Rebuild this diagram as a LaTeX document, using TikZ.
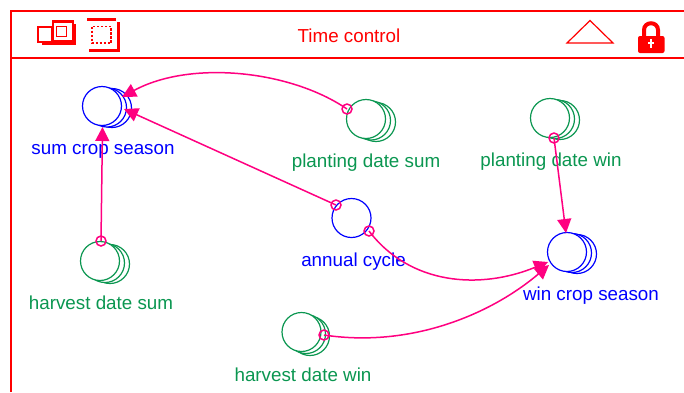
\documentclass[tikz,border=0pt]{standalone}
\usepackage{fontspec}
\setmainfont{Liberation Sans}
\usetikzlibrary{arrows.meta}
\definecolor{stockblue}{RGB}{0,0,255}
\definecolor{auxgreen}{RGB}{10,150,80}
\definecolor{linkpink}{RGB}{255,0,128}
\definecolor{framered}{RGB}{255,0,0}
\tikzset{
  stockc/.style={circle,draw=#1,fill=white,line width=1.2pt,minimum size=39pt,inner sep=0pt,outer sep=0pt},
  lab/.style={font=\fontsize{18.8}{21}\selectfont,text=#1,inner sep=0pt,anchor=base},
  port/.style={circle,draw=linkpink,line width=1.5pt,minimum size=10pt,inner sep=0pt,outer sep=0pt},
  link/.style={draw=linkpink,line width=1.5pt,-{Triangle[length=14pt,width=14pt]}},
  frameline/.style={draw=framered,line width=2pt},
  iconline/.style={draw=framered,line width=1.2pt},
  iconthick/.style={draw=framered,line width=2.8pt}
}
\begin{document}
\begin{tikzpicture}[x=1pt,y=-1pt]
\useasboundingbox (0,0) rectangle (684,392);
% frame
\coordinate (ftl) at (10.5,10.5);
\coordinate (ftr) at (684,10.5);
\coordinate (fbl) at (10.5,392);
\coordinate (fdl) at (10.5,58);
\coordinate (fdr) at (684,58);
\draw[frameline] (fbl) -- (ftl) -- (ftr);
\draw[frameline] (fdl) -- (fdr);
\node[lab=framered] (title) at (349,42) {Time control};
% icon 1
\draw[iconthick] (38,27) rectangle (52,42);
\draw[iconthick] (53,21.5) rectangle (73,41);
\draw[iconline] (56.5,26.5) rectangle (66.5,36.5);
\draw[iconthick] (42,43.5) -- (74.5,43.5) -- (74.5,24);
% icon 2
\draw[iconthick] (87,19.5) -- (116,19.5);
\draw[draw=framered,line width=3.5pt] (118.5,22) -- (118.5,50.5) -- (89,50.5);
\draw[iconline,dash pattern=on 2.5pt off 1.5pt] (92,26.5) rectangle (111,43);
% triangle
\coordinate (tria) at (567,43);
\coordinate (trib) at (590,20.5);
\coordinate (tric) at (613,43);
\draw[draw=framered,line width=1.2pt] (tria) -- (trib) -- (tric) -- cycle;
% lock
\draw[draw=framered,line width=4pt] (644,37) -- (644,30) .. controls (644,21) and (658,21) .. (658,30) -- (658,37);
\fill[framered,rounded corners=2pt] (638,36) rectangle (664.5,53);
\fill[white] (649.7,39) rectangle (652.3,48);
\fill[white] (648,41.5) rectangle (654,44);
% stocks
\node[stockc=stockblue] (sum3) at (112,108) {};
\node[stockc=stockblue] (sum2) at (107,107.5) {};
\node[stockc=stockblue] (sum) at (102,106) {};
\node[stockc=auxgreen] (pds3) at (376,122) {};
\node[stockc=auxgreen] (pds2) at (371,120.5) {};
\node[stockc=auxgreen] (pds) at (366,119) {};
\node[stockc=auxgreen] (pdw3) at (560,120) {};
\node[stockc=auxgreen] (pdw2) at (555,119) {};
\node[stockc=auxgreen] (pdw) at (550,118) {};
\node[stockc=stockblue] (ann) at (351.5,218) {};
\node[stockc=stockblue] (win3) at (577,254) {};
\node[stockc=stockblue] (win2) at (572,253) {};
\node[stockc=stockblue] (win) at (567,252) {};
\node[stockc=auxgreen] (hds3) at (110,264) {};
\node[stockc=auxgreen] (hds2) at (105,263) {};
\node[stockc=auxgreen] (hds) at (100,261) {};
\node[stockc=auxgreen] (hdw3) at (310,336) {};
\node[stockc=auxgreen] (hdw2) at (306,334) {};
\node[stockc=auxgreen] (hdw) at (301.5,332) {};
% labels
\node[lab=stockblue] (lsum) at (103,154) {sum crop season};
\node[lab=auxgreen] (lpds) at (366,167) {planting date sum};
\node[lab=auxgreen] (lpdw) at (551,166) {planting date win};
\node[lab=stockblue] (lann) at (353.5,266) {annual cycle};
\node[lab=auxgreen] (lhds) at (101,309) {harvest date sum};
\node[lab=stockblue] (lwin) at (591,300) {win crop season};
\node[lab=auxgreen] (lhdw) at (303,381) {harvest date win};
% ports
\node[port] (p1) at (347,109) {};
\node[port] (p2) at (336,205) {};
\node[port] (p3) at (369,231) {};
\node[port] (p4) at (554,138) {};
\node[port] (p5) at (324,335) {};
\node[port] (p6) at (101,241) {};
% targets
\coordinate (t1) at (122,97);
\coordinate (t2) at (124,109);
\coordinate (t3) at (102.5,127);
\coordinate (t4) at (566,233);
\coordinate (t5) at (548,262);
\coordinate (t6) at (549,265);
% links
\draw[link] (p1.center) .. controls (290,70) and (190,60) .. (t1);
\draw[link] (p2.center) -- (t2);
\draw[link] (p6.center) -- (t3);
\draw[link] (p4.center) -- (t4);
\draw[link] (p3.center) .. controls (410,285) and (480,290) .. (t5);
\draw[link] (p5.center) .. controls (410,348) and (490,315) .. (t6);
\end{tikzpicture}
\end{document}
